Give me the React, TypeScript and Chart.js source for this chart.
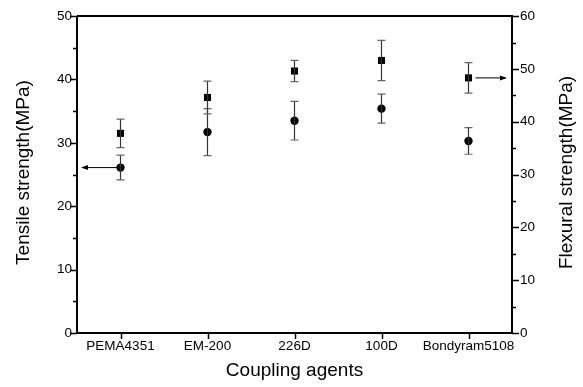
import React, { useEffect, useRef } from "react";
import { Chart, registerables } from "chart.js";

Chart.register(...registerables);

const categories = ["PEMA4351", "EM-200", "226D", "100D", "Bondyram5108"];
const tensile = [26.1, 31.7, 33.5, 35.4, 30.3];
const tensileErr = [1.95, 3.7, 3.05, 2.3, 2.1];
const flexural = [37.8, 44.6, 49.6, 51.6, 48.3];
const flexuralErr = [2.7, 3.1, 2.0, 3.8, 2.9];
const leftTicks = [0, 10, 20, 30, 40, 50];
const rightTicks = [0, 10, 20, 30, 40, 50, 60];

const FONT = "'Liberation Sans', Arial, sans-serif";

const overlay = {
  id: "overlay",
  afterDatasetsDraw(chart: any) {
    const ctx = chart.ctx;
    const x = chart.scales.x;
    const y = chart.scales.y;
    const y1 = chart.scales.y1;
    const area = chart.chartArea;
    ctx.save();
    const drawErr = (vals: number[], errs: number[], sc: any) => {
      vals.forEach((v, i) => {
        const px = x.getPixelForValue(i);
        const top = sc.getPixelForValue(v + errs[i]);
        const bot = sc.getPixelForValue(v - errs[i]);
        ctx.strokeStyle = "#333";
        ctx.lineWidth = 1.2;
        ctx.beginPath();
        ctx.moveTo(px, top);
        ctx.lineTo(px, bot);
        ctx.stroke();
        ctx.strokeStyle = "#666";
        ctx.beginPath();
        ctx.moveTo(px - 4, top);
        ctx.lineTo(px + 4, top);
        ctx.moveTo(px - 4, bot);
        ctx.lineTo(px + 4, bot);
        ctx.stroke();
      });
    };
    drawErr(tensile, tensileErr, y);
    drawErr(flexural, flexuralErr, y1);

    ctx.strokeStyle = "#000";
    ctx.fillStyle = "#000";
    ctx.lineWidth = 1;
    const ay = y.getPixelForValue(tensile[0]);
    const ax0 = x.getPixelForValue(0);
    ctx.beginPath();
    ctx.moveTo(ax0, ay);
    ctx.lineTo(area.left + 6, ay);
    ctx.stroke();
    ctx.beginPath();
    ctx.moveTo(area.left + 4, ay);
    ctx.lineTo(area.left + 11, ay - 2.5);
    ctx.lineTo(area.left + 11, ay + 2.5);
    ctx.closePath();
    ctx.fill();
    const n = flexural.length - 1;
    const by = y1.getPixelForValue(flexural[n]);
    const bx0 = x.getPixelForValue(n) + 7;
    ctx.beginPath();
    ctx.moveTo(bx0, by);
    ctx.lineTo(area.right - 7, by);
    ctx.stroke();
    ctx.beginPath();
    ctx.moveTo(area.right - 5, by);
    ctx.lineTo(area.right - 12, by - 2.5);
    ctx.lineTo(area.right - 12, by + 2.5);
    ctx.closePath();
    ctx.fill();
    ctx.restore();
  },
  afterDraw(chart: any) {
    const ctx = chart.ctx;
    const x = chart.scales.x;
    const y = chart.scales.y;
    const y1 = chart.scales.y1;
    const area = chart.chartArea;
    ctx.save();
    ctx.strokeStyle = "#000";
    ctx.lineWidth = 2;
    ctx.beginPath();
    ctx.moveTo(area.left, area.top);
    ctx.lineTo(area.left, area.bottom);
    ctx.lineTo(area.right, area.bottom);
    ctx.lineTo(area.right, area.top);
    ctx.lineTo(area.left, area.top);
    ctx.stroke();
    ctx.lineWidth = 1.5;
    ctx.beginPath();
    for (let v = 0; v <= 50; v += 5) {
      const p = Math.round(y.getPixelForValue(v)) + 0.5;
      const len = v % 10 === 0 ? 7 : 4;
      ctx.moveTo(area.left, p);
      ctx.lineTo(area.left - len, p);
    }
    for (let v = 0; v <= 60; v += 5) {
      const p = Math.round(y1.getPixelForValue(v)) + 0.5;
      const len = v % 10 === 0 ? 7 : 4;
      ctx.moveTo(area.right, p);
      ctx.lineTo(area.right + len, p);
    }
    categories.forEach((_, i) => {
      const p = Math.round(x.getPixelForValue(i)) + 0.5;
      ctx.moveTo(p, area.bottom);
      ctx.lineTo(p, area.bottom + 6);
    });
    ctx.stroke();
    ctx.fillStyle = "#000";
    ctx.font = `19px ${FONT}`;
    ctx.textAlign = "center";
    ctx.textBaseline = "alphabetic";
    ctx.fillText("Coupling agents", (area.left + area.right) / 2, 376);
    const cy = 172.5;
    ctx.save();
    ctx.translate(29, cy);
    ctx.rotate(-Math.PI / 2);
    ctx.fillText("Tensile strength(MPa)", 0, 0);
    ctx.restore();
    ctx.save();
    ctx.translate(572, cy);
    ctx.rotate(-Math.PI / 2);
    ctx.fillText("Flexural strength(MPa)", 0, 0);
    ctx.restore();
    ctx.restore();
  },
};

export default function App() {
  const ref = useRef<HTMLCanvasElement>(null);
  useEffect(() => {
    document.body.style.margin = "0";
    const chart = new Chart(ref.current!, {
      type: "line",
      data: {
        labels: categories,
        datasets: [
          {
            label: "Tensile strength",
            data: tensile,
            yAxisID: "y",
            showLine: false,
            pointStyle: "circle",
            pointRadius: 4.2,
            backgroundColor: "#000",
            borderColor: "#000",
            borderWidth: 0,
          },
          {
            label: "Flexural strength",
            data: flexural,
            yAxisID: "y1",
            showLine: false,
            pointStyle: "rect",
            pointRadius: 5,
            backgroundColor: "#000",
            borderColor: "#000",
            borderWidth: 0,
          },
        ],
      },
      options: {
        animation: false,
        responsive: false,
        layout: { padding: { top: 15, left: 0, right: 0, bottom: 0 } },
        plugins: { legend: { display: false }, tooltip: { enabled: false } },
        scales: {
          x: {
            type: "category",
            offset: true,
            grid: { display: false, drawTicks: false },
            border: { display: false },
            ticks: { color: "#000", font: { family: FONT, size: 13.5 }, padding: 5, maxRotation: 0, autoSkip: false },
            afterFit: (s: any) => { s.height = 54; },
          },
          y: {
            position: "left",
            min: 0,
            max: 50,
            afterBuildTicks: (s: any) => { s.ticks = leftTicks.map((v) => ({ value: v })); },
            grid: { display: false, drawTicks: false },
            border: { display: false },
            ticks: { color: "#000", font: { family: FONT, size: 13.5 }, padding: 5 },
            afterFit: (s: any) => { s.width = 77; },
          },
          y1: {
            position: "right",
            min: 0,
            max: 60,
            afterBuildTicks: (s: any) => { s.ticks = rightTicks.map((v) => ({ value: v })); },
            grid: { display: false, drawTicks: false },
            border: { display: false },
            ticks: { color: "#000", font: { family: FONT, size: 13.5 }, padding: 8 },
            afterFit: (s: any) => { s.width = 71; },
          },
        },
      },
      plugins: [overlay],
    });
    return () => chart.destroy();
  }, []);
  return <canvas ref={ref} width={583} height={387} style={{ display: "block" }} />;
}
